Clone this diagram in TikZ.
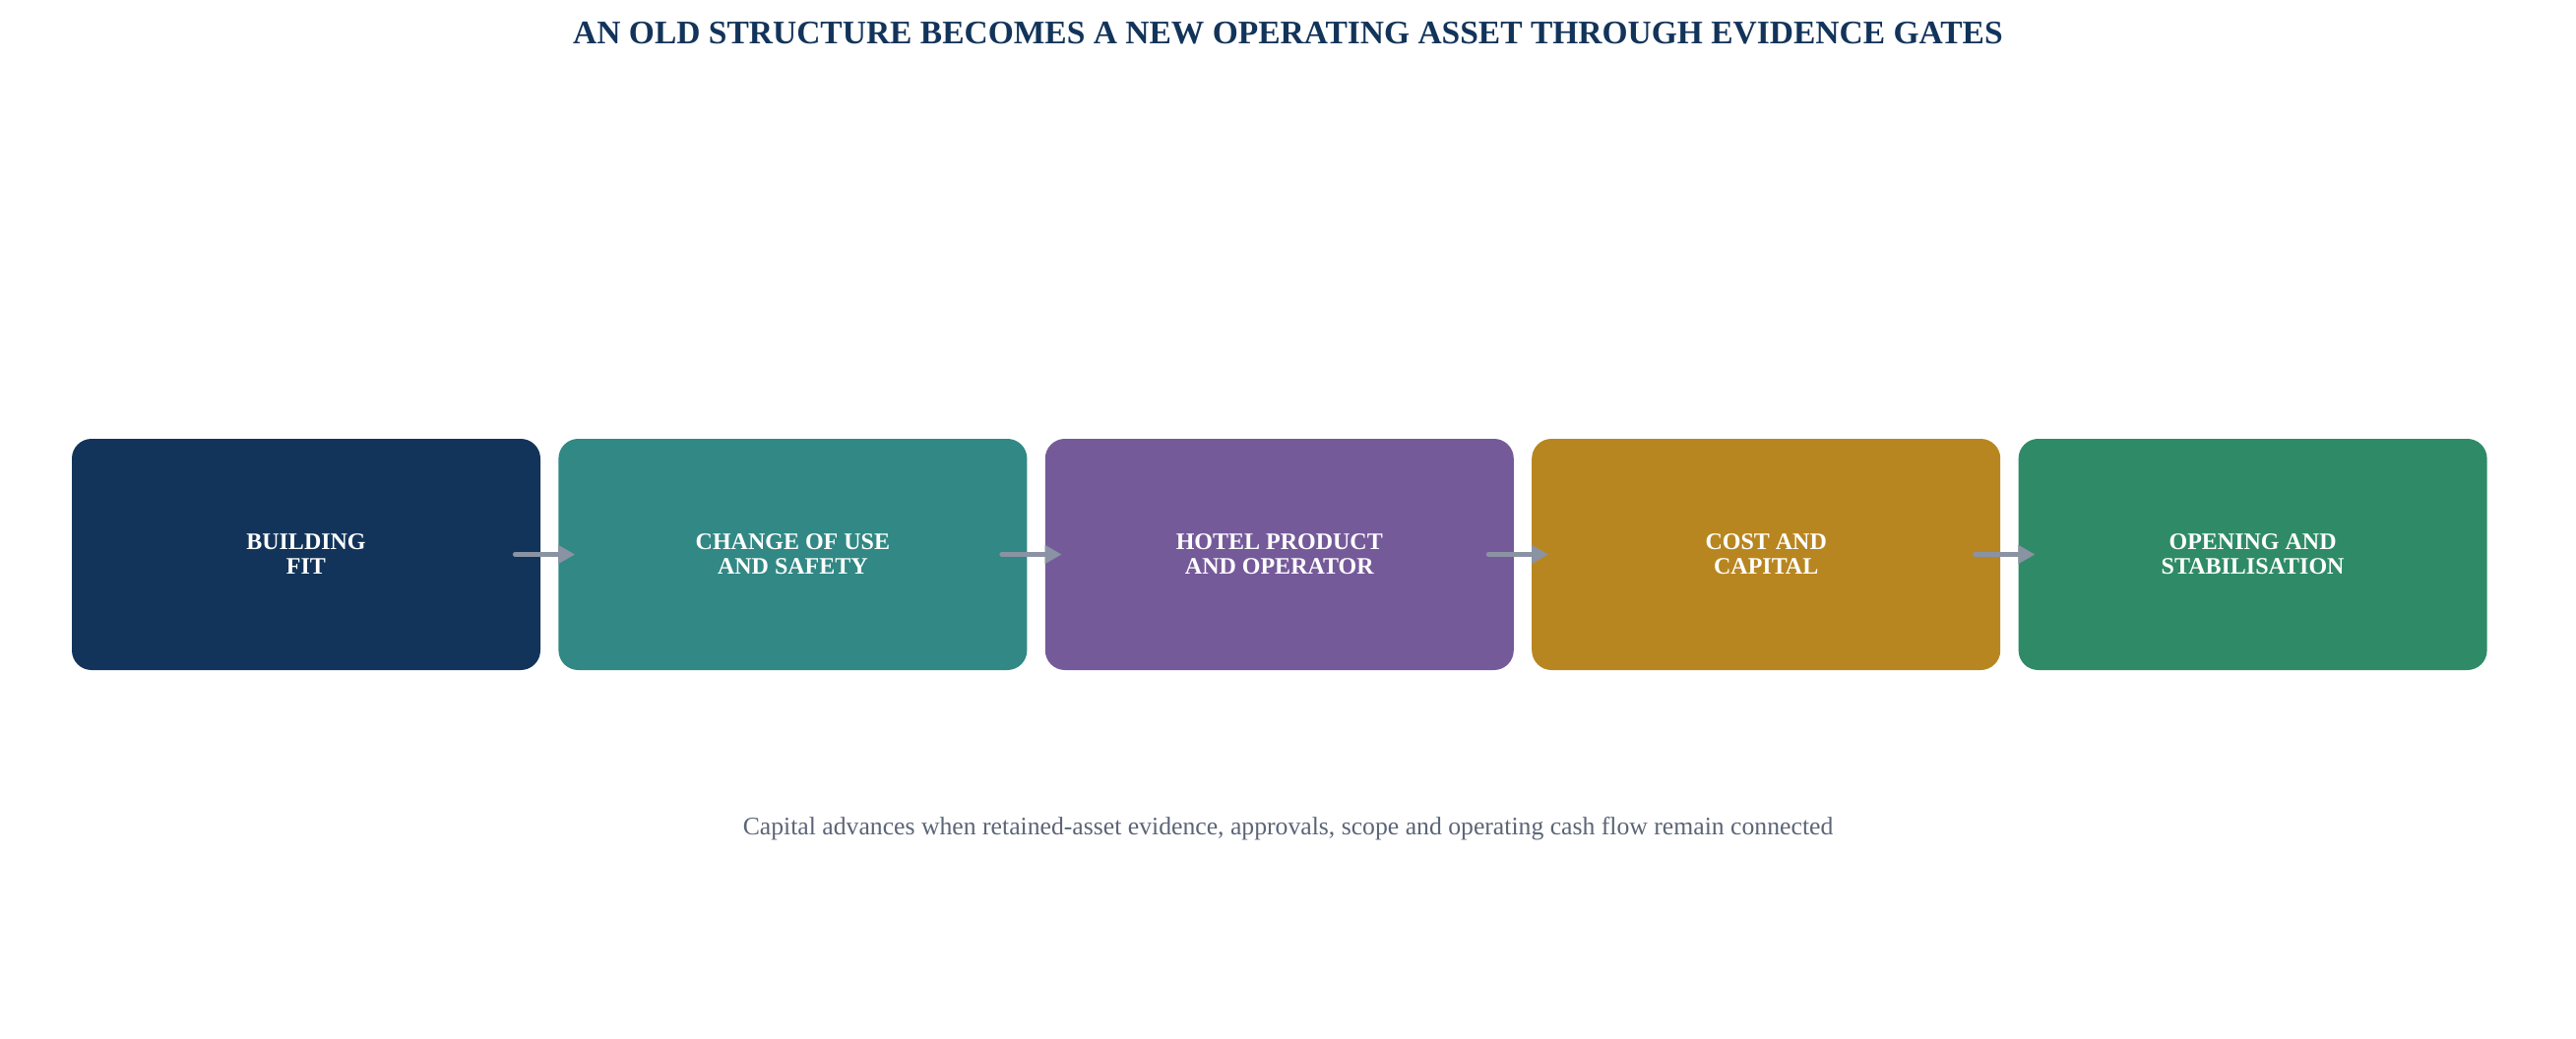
\documentclass[tikz,border=0pt]{standalone}
\usepackage{fontspec}
\setmainfont{Liberation Serif}
\usepackage{xcolor}
\usetikzlibrary{arrows.meta, positioning}

\definecolor{gateNavy}{HTML}{13345A}
\definecolor{gateTeal}{HTML}{318884}
\definecolor{gatePurple}{HTML}{755A9A}
\definecolor{gateGold}{HTML}{B88620}
\definecolor{gateGreen}{HTML}{2F8B67}
\definecolor{gateArrow}{HTML}{8A93A3}
\definecolor{noteGrey}{HTML}{5B6577}

\begin{document}
\begin{tikzpicture}[x=1pt, y=-1pt,
    gate/.style={rectangle, rounded corners=20pt, minimum width=476pt,
        minimum height=235pt, inner sep=0pt, text=white, align=center,
        font=\fontsize{24}{25}\selectfont\bfseries},
    flow/.style={draw=gateArrow, line width=4.5pt, line cap=round,
        -{Triangle[length=17pt, width=18pt]},
        shorten <=-26pt, shorten >=-17pt}]
    \useasboundingbox (0,0) rectangle (2617,1056);

    \node[font=\fontsize{33.5}{38}\selectfont\bfseries, text=gateNavy] (title)
        at (1308.5,34) {AN OLD STRUCTURE BECOMES A NEW OPERATING ASSET THROUGH EVIDENCE GATES};

    \node[gate, fill=gateNavy] (fit) at (311,563.5) {BUILDING\\FIT};
    \node[gate, fill=gateTeal, right=18pt of fit] (use) {CHANGE OF USE\\AND SAFETY};
    \node[gate, fill=gatePurple, right=18pt of use] (hotel) {HOTEL PRODUCT\\AND OPERATOR};
    \node[gate, fill=gateGold, right=18pt of hotel] (cost) {COST AND\\CAPITAL};
    \node[gate, fill=gateGreen, right=18pt of cost] (open) {OPENING AND\\STABILISATION};

    \draw[flow] (fit.east) -- (use.west);
    \draw[flow] (use.east) -- (hotel.west);
    \draw[flow] (hotel.east) -- (cost.west);
    \draw[flow] (cost.east) -- (open.west);

    \node[font=\fontsize{25.7}{30}\selectfont, text=noteGrey] (note)
        at (1308.5,842) {Capital advances when retained-asset evidence, approvals, scope and operating cash flow remain connected};
    %\draw[red] (0,0) rectangle (2617,1056);
\end{tikzpicture}
\end{document}
